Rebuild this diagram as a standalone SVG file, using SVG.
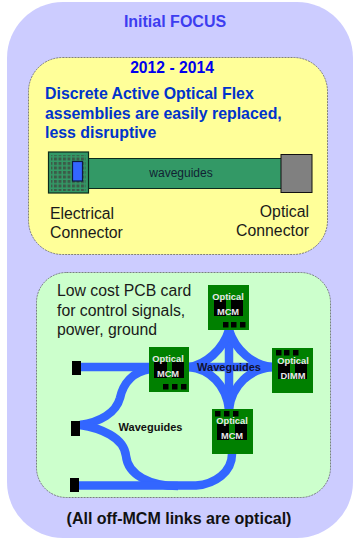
<svg xmlns="http://www.w3.org/2000/svg" width="357" height="539" viewBox="0 0 357 539">
<style>
text{font-family:"Liberation Sans",Arial,sans-serif}
.t{font-size:15.800px;fill:#1a1a1a}
.b{font-weight:bold;fill:#0033cc;font-size:15.900px}
.w{fill:none;stroke:#3366ff;stroke-width:8.500}
.m{fill:#008000}
.k{fill:#000}
.o{font-size:9.300px;font-weight:bold;fill:#e8e8e8;text-anchor:middle}
.l{font-size:11px;font-weight:bold;fill:#111133;text-anchor:middle}
</style>
<defs>
<pattern id="dots" width="4.5" height="4.5" patternUnits="userSpaceOnUse"><rect width="3" height="3" fill="#3c5a48"/></pattern>
</defs>
<rect width="357" height="539" fill="#fff"/>
<g id="outer"><rect x="7" y="2" width="346" height="536" rx="56" fill="#ccccff"/>
<text x="175" y="27" text-anchor="middle" font-size="16" font-weight="bold" fill="#3d3df0">Initial FOCUS</text>
<text x="179" y="524" text-anchor="middle" font-size="16" font-weight="bold" fill="#111">(All off-MCM links are optical)</text></g>
<g id="panel-2012"><rect x="28.500" y="57.500" width="299" height="197" rx="34" fill="#ffff99" stroke="#555" stroke-width="0.7" stroke-dasharray="2 1"/>
<text x="172" y="73" text-anchor="middle" font-size="15.700" font-weight="bold" fill="#0000ee">2012 - 2014</text>
<text class="b" x="45" y="99">Discrete Active Optical Flex</text>
<text class="b" x="45" y="119">assemblies are easily replaced,</text>
<text class="b" x="45" y="138">less disruptive</text></g>
<g id="waveguide-band"><rect x="88" y="158.500" width="194" height="30" fill="#339966" stroke="#0d2b1c" stroke-width="1"/>
<text x="181" y="177" text-anchor="middle" font-size="12" fill="#123">waveguides</text></g>
<g id="electrical-connector"><rect x="48.500" y="152" width="40" height="41" fill="#339966" stroke="#0d2b1c" stroke-width="1.200"/>
<rect x="51" y="155" width="35" height="36" fill="url(#dots)"/>
<rect x="72.500" y="161.500" width="10" height="19.500" fill="#3366ff" stroke="#0b1b40" stroke-width="1.200"/>
<text class="t" x="50" y="219">Electrical</text><text class="t" x="50" y="238">Connector</text></g>
<g id="optical-connector"><rect x="281" y="154.500" width="31" height="38" fill="#808080" stroke="#111" stroke-width="1"/>
<text class="t" x="309" y="217" text-anchor="end">Optical</text><text class="t" x="309" y="236" text-anchor="end">Connector</text></g>
<g id="pcb-panel"><rect x="36.500" y="272.500" width="294" height="225" rx="30" fill="#ccffcc" stroke="#555" stroke-width="0.7" stroke-dasharray="2 1"/>
<text class="t" x="57" y="296">Low cost PCB card</text><text class="t" x="57" y="316">for control signals,</text><text class="t" x="57" y="335">power, ground</text></g>
<g id="connectors">
<path class="w" d="M80 367H150"/>
<path class="w" d="M150 369C132 372 123 384 120 398C116 413 100 422 80 425"/>
<path class="w" d="M80 425C100 428 124 437 126 456C128 475 150 486 178 486"/>
<path class="w" d="M78 485.500H196C215 484 232 472 232 454"/>
<path class="w" d="M189 367H272"/>
<path class="w" d="M229 330V409"/>
<path class="w" d="M189 367C205 365 223 350 229 330C235 350 254 366 272 367"/>
<path class="w" d="M189 367C210 369 226 385 229 409C232 385 250 369 272 367"/>
</g>
<g id="term-1"><rect class="k" x="72" y="361" width="9" height="14"/></g>
<g id="term-2"><rect class="k" x="71" y="421" width="9" height="15"/></g>
<g id="term-3"><rect class="k" x="70" y="478" width="9" height="14"/></g>
<g id="mcm-left"><rect class="m" x="149" y="347" width="40" height="45"/>
<rect class="k" x="154" y="362" width="13" height="16"/><rect class="k" x="172" y="362" width="12" height="16"/>
<rect class="k" x="163" y="384" width="5.500" height="5.500"/><rect class="k" x="172" y="384" width="5.500" height="5.500"/><rect class="k" x="181" y="384" width="5.500" height="5.500"/>
<text class="o" x="168" y="362">Optical</text><text class="o" x="168" y="377">MCM</text></g>
<g id="mcm-top"><rect class="m" x="208" y="285" width="41" height="45"/>
<rect class="k" x="214" y="300" width="12" height="16"/><rect class="k" x="231" y="300" width="12" height="16"/>
<rect class="k" x="223" y="322" width="5.500" height="5.500"/><rect class="k" x="231" y="322" width="5.500" height="5.500"/><rect class="k" x="240" y="322" width="5.500" height="5.500"/>
<text class="o" x="228" y="300">Optical</text><text class="o" x="228" y="315">MCM</text></g>
<g id="dimm"><rect class="m" x="272" y="348" width="41" height="45"/>
<rect class="k" x="278" y="363" width="12" height="16"/><rect class="k" x="295" y="363" width="12" height="16"/>
<rect class="k" x="276" y="350" width="5.500" height="5.500"/><rect class="k" x="284" y="350" width="5.500" height="5.500"/><rect class="k" x="293" y="350" width="5.500" height="5.500"/>
<text class="o" x="293" y="364">Optical</text><text class="o" x="293" y="379">DIMM</text></g>
<g id="mcm-bottom"><rect class="m" x="212" y="409" width="41" height="45"/>
<rect class="k" x="217" y="424" width="12" height="16"/><rect class="k" x="235" y="424" width="12" height="16"/>
<rect class="k" x="215" y="411" width="5.500" height="5.500"/><rect class="k" x="224" y="411" width="5.500" height="5.500"/><rect class="k" x="233" y="411" width="5.500" height="5.500"/>
<text class="o" x="232" y="424">Optical</text><text class="o" x="232" y="439">MCM</text></g>
<text class="l" x="229" y="371">Waveguides</text>
<text class="l" x="150.500" y="431" style="fill:#111">Waveguides</text>
</svg>
